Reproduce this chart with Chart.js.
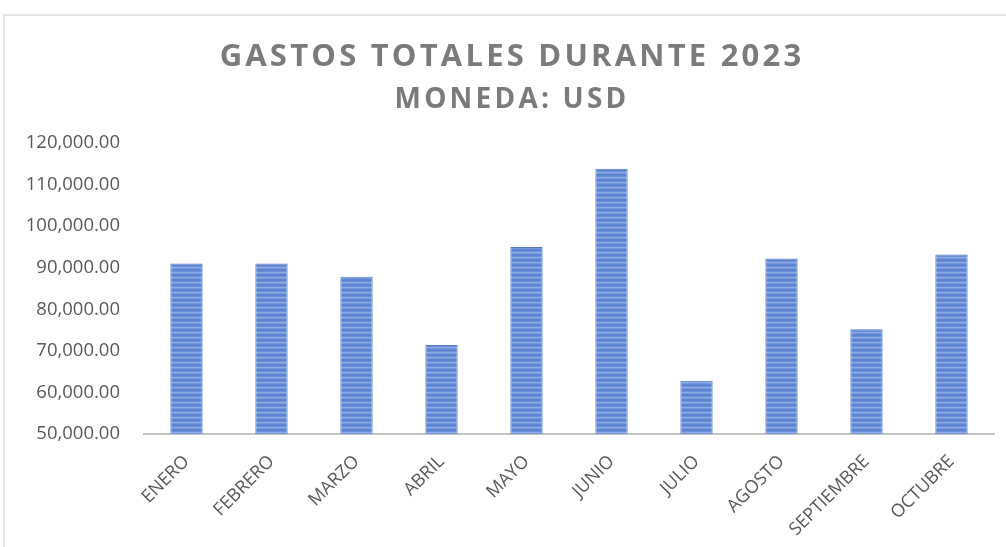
<!DOCTYPE html>
<html>
<head>
<meta charset="utf-8">
<script src="https://cdn.jsdelivr.net/npm/chart.js@4.4.1/dist/chart.umd.min.js"></script>
<style>
  html, body { margin: 0; padding: 0; background: #ffffff; overflow: hidden; }
  #wrap { position: relative; width: 1006px; height: 547px; }
  #frame { position: absolute; left: 3px; top: 14px; width: 1100px; height: 700px;
           border-top: 2px solid #e4e4e4; border-left: 2px solid #e4e4e4; box-sizing: border-box; }
  #c { position: absolute; left: 0; top: 0; }
</style>
</head>
<body>
<div id="wrap">
  <div id="frame"></div>
  <canvas id="c" width="1006" height="547"></canvas>
</div>
<script>
const titleText = 'GASTOS TOTALES DURANTE 2023';
const subtitleText = 'MONEDA: USD';
const months = ['ENERO', 'FEBRERO', 'MARZO', 'ABRIL', 'MAYO', 'JUNIO', 'JULIO', 'AGOSTO', 'SEPTIEMBRE', 'OCTUBRE'];
const gastos = [91000, 91000, 87800, 71400, 95000, 113800, 62800, 92200, 75200, 93200];
const yMin = 50000;
const yMax = 120000;
const yStep = 10000;

function stripePattern() {
  const p = document.createElement('canvas');
  p.width = 4; p.height = 5;
  const g = p.getContext('2d');
  const rows = ['#5a82d1', '#6b8fd8', '#8eaae3', '#7598db', '#5f86d3'];
  rows.forEach((col, i) => { g.fillStyle = col; g.fillRect(0, i, 4, 1); });
  return g.createPattern(p, 'repeat');
}

// Letter-spaced title and subtitle (as in the original)
const spacedTitles = {
  id: 'spacedTitles',
  afterInit(chart) {
    chart.boxes.forEach((b) => {
      if (b.options && (b.options.text === titleText || b.options.text === subtitleText) && !b._spaced) {
        const orig = b.draw.bind(b);
        b._spaced = true;
        b.draw = function () {
          const c = this.ctx;
          c.save();
          c.letterSpacing = '3.2px';
          c.translate(15, 0);
          orig();
          c.restore();
        };
      }
    });
  }
};

const ctx = document.getElementById('c').getContext('2d');
new Chart(ctx, {
  type: 'bar',
  data: {
    labels: months,
    datasets: [{
      data: gastos,
      backgroundColor: stripePattern(),
      borderColor: '#5579c8',
      borderWidth: 1,
      categoryPercentage: 1,
      barPercentage: 0.38
    }]
  },
  plugins: [spacedTitles],
  options: {
    responsive: false,
    animation: false,
    layout: { padding: { left: 0, right: 12, top: 0, bottom: 0 } },
    plugins: {
      legend: { display: false },
      tooltip: { enabled: false },
      title: {
        display: true,
        text: titleText,
        color: '#7b7b7b',
        font: { family: 'Open Sans', size: 31, weight: 'bold', lineHeight: 1.2 },
        padding: { top: 38.5, bottom: 0 }
      },
      subtitle: {
        display: true,
        text: subtitleText,
        color: '#7b7b7b',
        font: { family: 'Open Sans', size: 28, weight: 'bold', lineHeight: 1.2 },
        padding: { top: 7.2, bottom: 26.5 }
      }
    },
    scales: {
      x: {
        grid: { display: false, drawTicks: false },
        border: { display: true, color: '#c4c4c4', width: 2 },
        ticks: {
          color: '#595959',
          font: { family: 'Open Sans', size: 18 },
          autoSkip: false,
          minRotation: 45,
          maxRotation: 45,
          padding: 17
        },
        afterFit: (s) => { s.height = 113; }
      },
      y: {
        min: yMin,
        max: yMax,
        grid: { display: false, drawTicks: false },
        border: { display: false },
        ticks: {
          stepSize: yStep,
          color: '#595959',
          padding: 24,
          font: { family: 'Open Sans', size: 18.5 },
          callback: (v) => v.toLocaleString('en-US', { minimumFractionDigits: 2, maximumFractionDigits: 2 })
        },
        afterFit: (s) => { s.width = 144; }
      }
    }
  }
});
</script>
</body>
</html>
